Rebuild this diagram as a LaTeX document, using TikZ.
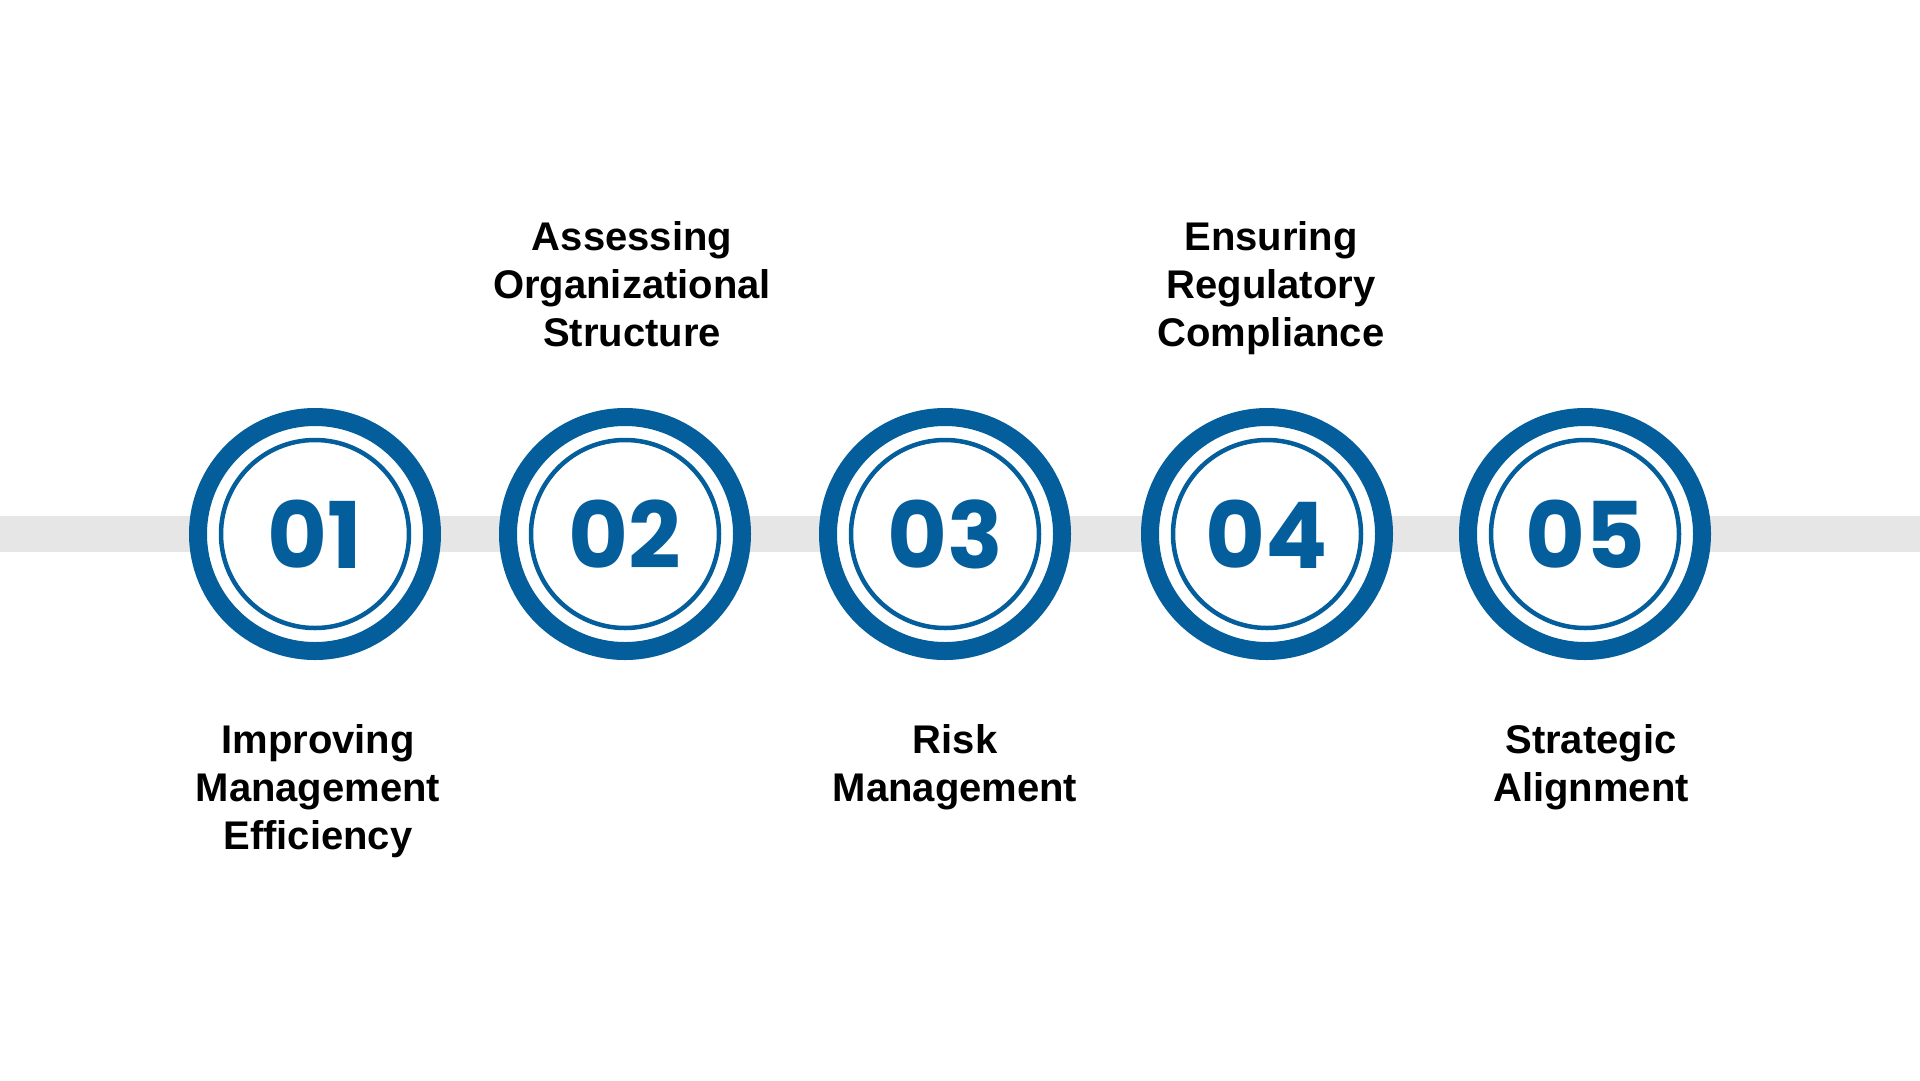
\documentclass[tikz,border=0pt]{standalone}
\usepackage{fontspec}
\setmainfont{Liberation Sans}
\newfontfamily\numfont{Poppins}
\definecolor{ringblue}{HTML}{035E9B}
\definecolor{bandgray}{HTML}{E6E6E6}
\tikzset{
	ring/.style={circle, draw=ringblue, line width=18pt, fill=white, minimum size=234pt, inner sep=0pt,
		text=ringblue, font=\numfont\bfseries\fontsize{92}{92}\selectfont},
	innerring/.style={draw=ringblue, line width=4.5pt},
	lbl/.style={align=center, inner sep=0pt, font=\bfseries\fontsize{40}{48}\selectfont},
}
\begin{document}
\begin{tikzpicture}[x=1pt,y=-1pt]
	\useasboundingbox[fill=white] (0,0) rectangle (1920,1080);
	\coordinate (west) at (0,534);
	\coordinate (east) at (1920,534);
	\draw[bandgray, line width=36pt] (west) -- (east);

	\node[ring] (n1) at (315,534) {01};
	\node[ring] (n2) at (625,534) {02};
	\node[ring] (n3) at (945,534) {03};
	\node[ring] (n4) at (1267,534) {04};
	\node[ring] (n5) at (1585,534) {05};
	\draw[innerring] (n1) circle (94pt) (n2) circle (94pt) (n3) circle (94pt)
		(n4) circle (94pt) (n5) circle (94pt);

	%% top labels
	\node[lbl, anchor=north] (t2) at (632,221) {Assessing\\Organizational\\Structure};
	\node[lbl, anchor=north] (t4) at (1271,221) {Ensuring\\Regulatory\\Compliance};
	%% bottom labels
	\node[lbl, anchor=north] (b1) at (318,724) {Improving\\Management\\Efficiency};
	\node[lbl, anchor=north] (b3) at (955,724) {Risk\\Management};
	\node[lbl, anchor=north] (b5) at (1591,724) {Strategic\\Alignment};
\end{tikzpicture}
\end{document}
